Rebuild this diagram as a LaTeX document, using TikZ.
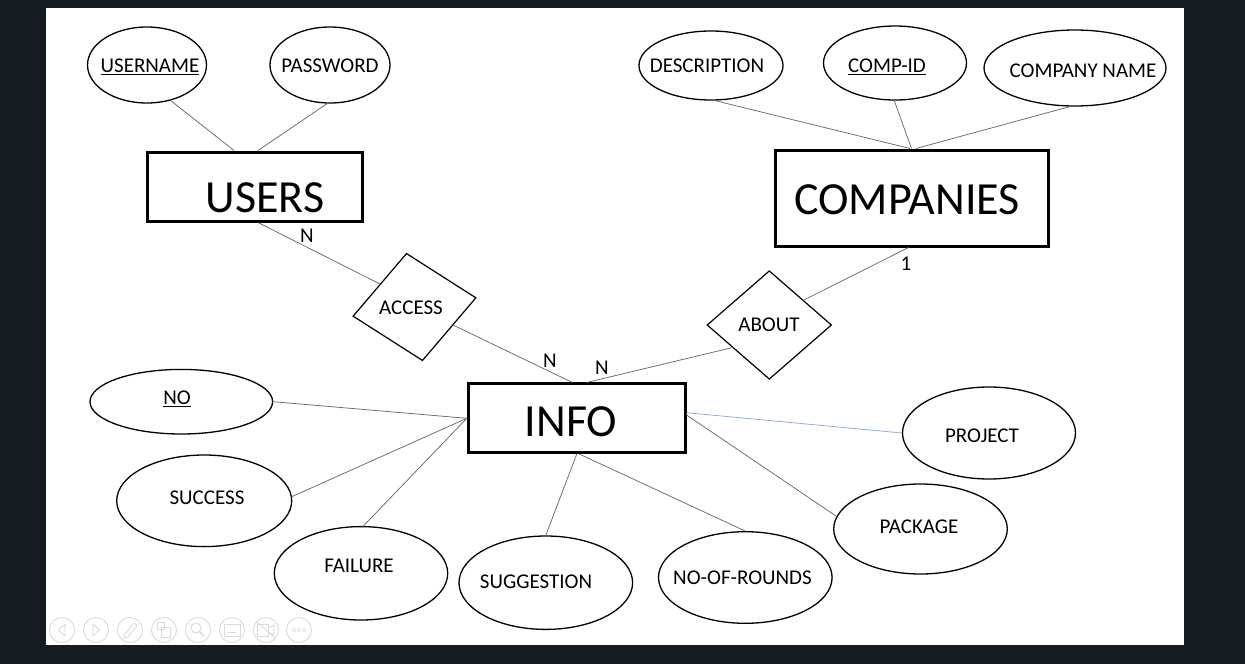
\documentclass[tikz,border=0pt]{standalone}
\usepackage{fontspec}
\setmainfont{Carlito}
\usetikzlibrary{shapes.geometric}
\definecolor{bgdark}{HTML}{161B22}
\definecolor{conngray}{HTML}{6A6A6A}
\definecolor{connblue}{HTML}{8FAADC}
\definecolor{uigray}{HTML}{DADADA}
\begin{document}
\begin{tikzpicture}[x=1pt,y=-1pt,
  attr/.style={ellipse,draw,line width=1.3pt,inner sep=0pt},
  entity/.style={rectangle,draw,line width=3pt,inner sep=0pt},
  rel/.style={diamond,draw,line width=1.2pt,inner sep=0pt,minimum width=124.6pt,minimum height=108.6pt},
  conn/.style={draw=conngray,line width=0.75pt},
  small/.style={font=\fontsize{21}{25}\selectfont,inner sep=0pt,text height=13.3pt,text depth=0pt},
  big/.style={font=\fontsize{46}{54}\selectfont,inner sep=0pt,text height=29.1pt,text depth=0pt},
  ui/.style={draw=uigray,line width=0.9pt}]
% background and slide
\fill[bgdark] (0,0) rectangle (1245,664);
\fill[white] (46,8) rectangle (1184,645);

% entities
\node[entity,minimum width=215pt,minimum height=69pt] (users) at (254.5,186.5) {};
\node[entity,minimum width=273pt,minimum height=96pt] (companies) at (911.5,198) {};
\node[entity,minimum width=216.7pt,minimum height=68.7pt] (info) at (576.7,418.3) {};
\node[big] (tusers) at (265,198) {USERS};
\node[big] (tcompanies) at (907,200) {COMPANIES};
\node[big] (tinfo) at (571,422) {INFO};

% relationships
\node[rel,rotate=8.5] (access) at (414.5,307) {};
\node[rel] (about) at (769.3,325) {};
\node[small] (taccess) at (411,308) {ACCESS};
\node[small] (tabout) at (769,325) {ABOUT};

% attributes
\node[attr,minimum width=119pt,minimum height=76pt] (uname) at (147,65) {};
\node[attr,minimum width=120pt,minimum height=76pt] (pass) at (330,65) {};
\node[attr,minimum width=144pt,minimum height=69pt] (desc) at (711,65.5) {};
\node[attr,minimum width=143pt,minimum height=74pt] (compid) at (895,63) {};
\node[attr,minimum width=182pt,minimum height=76pt] (cname) at (1075,68) {};
\node[attr,minimum width=182.6pt,minimum height=64.6pt] (no) at (181.3,401.7) {};
\node[attr,minimum width=175pt,minimum height=91.6pt] (success) at (204.2,500.8) {};
\node[attr,minimum width=173.4pt,minimum height=93.4pt] (failure) at (361,573.3) {};
\node[attr,minimum width=173.6pt,minimum height=93.4pt] (sugg) at (545.8,582.7) {};
\node[attr,minimum width=173.6pt,minimum height=91.6pt] (rounds) at (745.3,577.5) {};
\node[attr,minimum width=173.6pt,minimum height=90pt] (package) at (920.5,529) {};
\node[attr,minimum width=173pt,minimum height=92pt] (project) at (989,433) {};

\node[small] (tuname) at (150,66) {\underline{USERNAME}};
\node[small] (tpass) at (330,66) {PASSWORD};
\node[small] (tdesc) at (707,66) {DESCRIPTION};
\node[small] (tcompid) at (887,66) {\underline{COMP-ID}};
\node[small] (tcname) at (1083,71) {COMPANY NAME};
\node[small] (tno) at (177,398) {\underline{NO}};
\node[small] (tsuccess) at (207,498) {SUCCESS};
\node[small] (tfailure) at (359,566) {FAILURE};
\node[small] (tsugg) at (536,582) {SUGGESTION};
\node[small] (trounds) at (742.5,578) {NO-OF-ROUNDS};
\node[small] (tpackage) at (919,527) {PACKAGE};
\node[small] (tproject) at (982,436) {PROJECT};

% cardinalities
\node[small] (c1) at (307,236) {N};
\node[small] (c2) at (550,361) {N};
\node[small] (c3) at (602,368) {N};
\node[small] (c4) at (906,264) {1};

% connectors
\draw[conn] ([shift={(23,35)}]uname.center) -- ([xshift=-20.5pt]users.north);
\draw[conn] ([shift={(-2,38)}]pass.center) -- ([xshift=3.5pt]users.north);
\draw[conn] ([shift={(1.5,34.5)}]desc.center) -- ([xshift=-1.5pt]companies.north);
\draw[conn] ([shift={(-1,37)}]compid.center) -- (companies.north);
\draw[conn] ([shift={(-3,38)}]cname.center) -- ([xshift=4.5pt]companies.north);
\draw[conn] ([xshift=3.5pt]users.south) -- ([shift={(-34.5,-23)}]access.center);
\draw[conn] ([shift={(38.5,18)}]access.center) -- ([xshift=-4.4pt]info.north);
\draw[conn] ([shift={(-36.6,22.5)}]about.center) -- ([xshift=10pt]info.north);
\draw[conn] ([xshift=-3pt]companies.south) -- ([shift={(34,-24.7)}]about.center);
\draw[conn] (no.east) -- (info.west);
\draw[conn] ([shift={(87.3,-4)}]success.center) -- (info.west);
\draw[conn] ([shift={(1.7,-46.6)}]failure.center) -- (info.west);
\draw[draw=connblue,line width=0.75pt] ([yshift=5.6pt]info.east) -- (project.west);
\draw[conn] ([yshift=3.3pt]info.east) -- ([shift={(-83.5,-12.3)}]package.center);
\draw[conn] (info.south) -- (sugg.north);
\draw[conn] ([xshift=2.8pt]info.south) -- (rounds.north);

% presentation toolbar (faint)
\foreach \x in {62,96,130,164,198,232,266,299} \draw[ui] (\x,630) circle (12.5);
\draw[ui,line join=round] (65,624) -- (58.5,630) -- (65,636) -- cycle;
\draw[ui,line join=round] (93,624) -- (99.5,630) -- (93,636) -- cycle;
\draw[ui,line join=round] (124,638) -- (125,634) -- (134,623) -- (137,626) -- (128,637) -- cycle;
\draw[ui] (157,622) rectangle (164,629);
\draw[ui] (161,627) rectangle (170,637);
\draw[ui] (196,628) circle (5);
\draw[ui,line width=1.6pt] (199.5,631.5) -- (204,636);
\draw[ui] (224,624) rectangle (240,636);
\draw[ui] (228,632) -- (236,632);
\draw[ui] (257,624) rectangle (268,636);
\draw[ui] (268,628) -- (274,625) -- (274,635) -- (268,632);
\draw[ui] (257,622) -- (275,638);
\foreach \x in {294,299,304} \draw[ui,line width=0.6pt] (\x,630) circle (1.8);
\end{tikzpicture}
\end{document}
